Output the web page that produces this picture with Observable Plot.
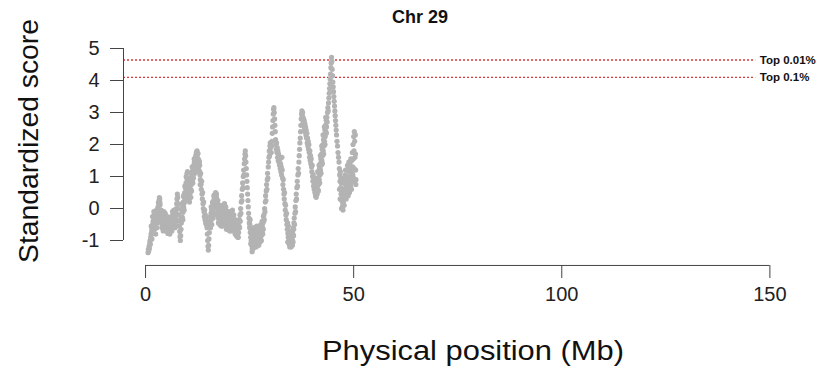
<!DOCTYPE html>
<html><head><meta charset="utf-8">
<script src="https://cdn.jsdelivr.net/npm/d3@7"></script>
<script src="https://cdn.jsdelivr.net/npm/@observablehq/plot@0.6"></script>
<style>body{margin:0;background:#fff;} svg{display:block}</style>
</head><body><div id="chart"></div>
<script>
const title = "Chr 29";
const xLabel = "Physical position (Mb)";
const yLabel = "Standardized score";
const xTicks = [0, 50, 100, 150];
const yTicks = [-1, 0, 1, 2, 3, 4, 5];
const thresholdNames = ["Top 0.01%", "Top 0.1%"];
const thresholdValues = [4.64, 4.10];
// windows: [position (Mb), standardized score]
const windows = [
[0.60,-1.38],[0.68,-1.28],[0.76,-1.33],[0.84,-1.18],[0.92,-1.25],[1.00,-1.08],[1.08,-1.00],[1.16,-1.12],[1.24,-0.90],[1.32,-0.80],[1.40,-0.95],[1.48,-0.70],[1.56,-0.62],[1.64,-0.78],[1.72,-0.50],[1.80,-0.40],[1.88,-0.58],
[1.96,-0.30],[2.04,-0.45],[2.12,-0.22],[2.20,-0.65],[2.28,-0.38],[2.36,-0.55],[2.44,-0.80],[2.52,-0.42],[2.60,-0.28],[2.68,-0.60],[2.76,-0.18],[2.84,-0.05],[2.92,-0.35],[3.00,0.05],[3.08,0.18],[3.16,-0.10],[3.24,0.25],[3.32,0.34],[3.40,0.30],[3.48,0.12],[3.56,-0.05],[3.64,-0.20],
[3.72,-0.35],[3.80,-0.15],[3.88,-0.48],[3.96,-0.28],[4.04,-0.60],[4.12,-0.40],[4.20,-0.20],[4.28,-0.52],[4.36,-0.35],[4.44,-0.65],[4.52,-0.45],[4.60,-0.25],[4.68,-0.55],[4.76,-0.38],[4.84,-0.68],[4.92,-0.50],[5.00,-0.30],[5.08,-0.58],[5.16,-0.42],[5.24,-0.72],[5.32,-0.55],[5.40,-0.35],[5.48,-0.62],[5.56,-0.48],[5.64,-0.75],[5.72,-0.58],[5.80,-0.40],[5.88,-0.66],[5.96,-0.50],[6.04,-0.30],[6.12,-0.55],[6.20,-0.40],[6.28,-0.62],[6.36,-0.45],[6.44,-0.25],[6.52,-0.50],[6.60,-0.32],[6.68,-0.15],[6.76,-0.42],[6.84,-0.28],[6.92,-0.55],[7.00,-0.38],[7.08,-0.20],[7.16,-0.48],[7.24,-0.30],[7.32,-0.12],
[7.40,0.00],[7.48,0.15],[7.56,0.30],[7.64,0.45],[7.72,0.35],[7.80,0.15],[7.88,0.00],[7.96,-0.20],[8.04,-0.38],[8.12,-0.55],[8.20,-0.72],[8.28,-0.88],[8.36,-1.00],[8.44,-0.85],[8.52,-0.65],[8.60,-0.45],
[8.68,-0.30],[8.76,-0.10],[8.84,-0.28],[8.92,0.05],[9.00,-0.12],[9.08,0.20],[9.16,0.05],[9.24,0.35],[9.32,0.18],[9.40,0.50],[9.48,0.32],[9.56,0.65],[9.64,0.45],[9.72,0.80],[9.80,0.62],[9.88,0.95],[9.96,1.10],[10.04,0.85],[10.12,0.70],[10.20,0.55],[10.28,0.38],[10.36,0.52],[10.44,0.30],[10.52,0.45],[10.60,0.65],[10.68,0.48],[10.76,0.78],[10.84,0.60],[10.92,0.90],[11.00,0.75],[11.08,1.05],[11.16,0.88],[11.24,1.15],[11.32,1.00],[11.40,1.25],[11.48,1.10],[11.56,1.35],[11.64,1.20],
[11.72,1.45],[11.80,1.30],[11.88,1.55],[11.96,1.40],[12.04,1.65],[12.12,1.50],[12.20,1.75],[12.28,1.60],[12.36,1.80],[12.44,1.68],[12.52,1.55],[12.60,1.72],[12.68,1.42],[12.76,1.30],[12.84,1.50],[12.92,1.18],[13.00,1.35],[13.08,1.05],
[13.16,0.90],[13.24,1.10],[13.32,0.75],[13.40,0.60],[13.48,0.85],[13.56,0.45],[13.64,0.30],[13.72,0.50],[13.80,0.15],[13.88,0.00],[13.96,0.20],[14.04,-0.10],[14.12,-0.25],[14.20,-0.05],[14.28,-0.35],[14.36,-0.20],[14.44,-0.45],[14.52,-0.30],[14.60,-0.50],[14.68,-0.38],[14.76,-0.60],[14.84,-0.80],[14.92,-1.00],[15.00,-1.18],[15.08,-1.30],[15.16,-1.15],[15.24,-0.95],[15.32,-0.75],[15.40,-0.55],[15.48,-0.40],
[15.56,-0.25],[15.64,-0.45],[15.72,-0.15],[15.80,-0.35],[15.88,-0.05],[15.96,-0.28],[16.04,0.05],[16.12,-0.18],[16.20,0.15],[16.28,-0.10],[16.36,0.25],[16.44,0.05],[16.52,0.35],[16.60,0.20],[16.68,0.45],[16.76,0.30],[16.84,0.50],[16.92,0.38],[17.00,0.15],[17.08,0.32],[17.16,0.00],[17.24,0.20],[17.32,-0.15],[17.40,0.05],[17.48,-0.30],[17.56,-0.10],[17.64,-0.40],[17.72,-0.20],[17.80,-0.05],[17.88,-0.30],[17.96,0.10],[18.04,-0.15],[18.12,-0.38],[18.20,-0.20],[18.28,-0.45],[18.36,-0.25],[18.44,-0.10],[18.52,-0.35],[18.60,-0.15],[18.68,0.05],
[18.76,-0.20],[18.84,0.10],[18.92,-0.05],[19.00,-0.30],[19.08,0.00],[19.16,-0.25],[19.24,-0.45],[19.32,-0.15],[19.40,-0.35],[19.48,-0.55],[19.56,-0.28],[19.64,-0.48],[19.72,-0.62],[19.80,-0.40],[19.88,-0.20],[19.96,-0.50],[20.04,-0.30],[20.12,-0.58],[20.20,-0.70],[20.28,-0.45],[20.36,-0.60],[20.44,-0.35],[20.52,-0.55],[20.60,-0.20],[20.68,-0.42],[20.76,-0.10],[20.84,-0.30],[20.92,-0.50],[21.00,-0.25],[21.08,-0.40],[21.16,-0.60],[21.24,-0.45],[21.32,-0.70],[21.40,-0.55],[21.48,-0.35],[21.56,-0.62],[21.64,-0.80],[21.72,-0.58],[21.80,-0.40],[21.88,-0.65],[21.96,-0.85],[22.04,-0.70],[22.12,-0.50],[22.20,-0.72],[22.28,-0.90],
[22.36,-0.75],[22.44,-0.55],[22.52,-0.35],[22.60,-0.60],[22.68,-0.20],[22.76,-0.40],[22.84,0.00],[22.92,-0.15],[23.00,0.20],
[23.08,0.40],[23.16,0.25],[23.24,0.60],[23.32,0.80],[23.40,0.65],[23.48,1.00],[23.56,1.20],[23.64,1.05],[23.72,1.40],[23.80,1.55],[23.88,1.70],[23.96,1.80],[24.04,1.65],[24.12,1.45],[24.20,1.25],[24.28,1.05],[24.36,0.85],[24.44,0.65],[24.52,0.45],[24.60,0.25],[24.68,0.05],[24.76,-0.15],[24.84,-0.30],
[24.92,-0.45],[25.00,-0.60],[25.08,-0.50],[25.16,-0.75],[25.24,-0.90],[25.32,-0.70],[25.40,-1.00],[25.48,-1.15],[25.56,-0.95],[25.64,-1.25],[25.72,-1.05],[25.80,-0.85],[25.88,-1.10],[25.96,-0.95],[26.04,-0.80],[26.12,-1.00],[26.20,-0.88],[26.28,-0.70],[26.36,-0.92],[26.44,-1.05],[26.52,-0.85],[26.60,-0.95],[26.68,-0.75],[26.76,-1.00],[26.84,-0.88],[26.92,-1.10],[27.00,-0.90],[27.08,-0.78],[27.16,-0.95],[27.24,-0.82],[27.32,-1.00],[27.40,-0.85],[27.48,-0.70],[27.56,-0.92],[27.64,-0.80],[27.72,-0.62],[27.80,-0.85],[27.88,-0.70],[27.96,-0.55],[28.04,-0.75],[28.12,-0.60],[28.20,-0.45],[28.28,-0.65],[28.36,-0.40],
[28.44,-0.20],[28.52,-0.35],[28.60,0.00],[28.68,-0.10],[28.76,0.20],[28.84,0.40],[28.92,0.25],[29.00,0.55],[29.08,0.75],[29.16,0.60],[29.24,0.90],[29.32,1.10],[29.40,0.95],[29.48,1.30],[29.56,1.45],[29.64,1.60],[29.72,1.80],[29.80,1.65],[29.88,1.95],[29.96,2.05],
[30.04,1.90],[30.12,2.00],[30.20,1.75],[30.28,1.95],[30.36,2.10],[30.44,2.35],[30.52,2.55],[30.60,2.75],[30.68,2.95],[30.76,3.10],[30.84,3.15],[30.92,3.00],[31.00,2.80],[31.08,2.60],[31.16,2.40],
[31.24,2.15],[31.32,2.00],[31.40,1.85],[31.48,2.05],[31.56,1.75],[31.64,1.90],[31.72,1.60],[31.80,1.80],[31.88,1.50],[31.96,1.70],[32.04,1.45],[32.12,1.60],[32.20,1.35],[32.28,1.55],[32.36,1.25],[32.44,1.40],[32.52,1.15],[32.60,1.30],[32.68,1.05],[32.76,1.60],[32.84,1.20],[32.92,0.95],[33.00,0.75],[33.08,0.90],[33.16,0.60],
[33.24,0.45],[33.32,0.30],[33.40,0.50],[33.48,0.15],[33.56,-0.05],[33.64,0.10],[33.72,-0.20],[33.80,-0.35],[33.88,-0.15],[33.96,-0.50],[34.04,-0.65],[34.12,-0.45],[34.20,-0.78],[34.28,-0.90],[34.36,-0.70],[34.44,-1.00],[34.52,-1.12],[34.60,-0.95],[34.68,-0.80],[34.76,-1.05],[34.84,-1.18],[34.92,-1.00],[35.00,-0.85],[35.08,-1.10],[35.16,-0.95],[35.24,-0.75],[35.32,-1.00],[35.40,-0.80],[35.48,-0.60],[35.56,-0.85],[35.64,-0.45],
[35.72,-0.30],[35.80,-0.50],[35.88,-0.15],[35.96,0.05],[36.04,-0.10],[36.12,0.25],[36.20,0.45],[36.28,0.30],[36.36,0.65],[36.44,0.85],[36.52,0.70],[36.60,1.05],[36.68,1.25],[36.76,1.10],[36.84,1.45],[36.92,1.65],[37.00,1.85],[37.08,2.05],[37.16,2.20],
[37.24,2.40],[37.32,2.60],[37.40,2.80],[37.48,2.95],[37.56,3.05],[37.64,2.90],[37.72,3.00],[37.80,2.85],[37.88,2.70],[37.96,2.80],[38.04,2.60],[38.12,2.75],[38.20,2.50],[38.28,2.65],
[38.36,2.40],[38.44,2.55],[38.52,2.30],[38.60,2.45],[38.68,2.20],[38.76,2.35],[38.84,2.05],[38.92,2.20],[39.00,1.95],[39.08,2.10],[39.16,1.85],[39.24,2.00],[39.32,1.75],[39.40,1.60],[39.48,1.80],[39.56,1.50],[39.64,1.65],[39.72,1.40],[39.80,1.55],
[39.88,1.30],[39.96,1.15],[40.04,1.35],[40.12,1.00],[40.20,0.85],[40.28,1.05],[40.36,0.70],[40.44,0.90],[40.52,0.60],[40.60,0.75],[40.68,0.50],[40.76,0.65],[40.84,0.40],[40.92,0.55],[41.00,0.35],[41.08,0.50],
[41.16,0.65],[41.24,0.45],[41.32,0.80],[41.40,0.60],[41.48,0.95],[41.56,0.75],[41.64,1.10],[41.72,0.90],[41.80,1.25],[41.88,1.05],[41.96,1.40],[42.04,1.20],[42.12,1.55],[42.20,1.35],[42.28,1.70],[42.36,1.50],[42.44,1.85],[42.52,1.65],[42.60,2.00],[42.68,1.80],[42.76,2.15],[42.84,1.95],[42.92,2.30],[43.00,2.10],[43.08,2.45],[43.16,2.25],[43.24,2.60],[43.32,2.40],[43.40,2.75],[43.48,2.55],
[43.56,2.85],[43.64,2.70],[43.72,3.00],[43.80,3.15],[43.88,3.05],[43.96,3.30],[44.04,3.45],[44.12,3.60],[44.20,3.75],[44.28,3.90],[44.36,4.05],[44.44,4.20],[44.52,4.40],[44.60,4.55],[44.68,4.72],[44.76,4.60],
[44.84,4.35],[44.92,4.15],[45.00,3.95],[45.08,3.80],[45.16,3.65],[45.24,3.50],[45.32,3.35],[45.40,3.20],[45.48,3.05],[45.56,2.90],[45.64,2.75],[45.72,2.60],[45.80,2.45],[45.88,2.30],
[46.00,2.10],[46.12,1.95],[46.24,1.75],[46.36,1.60],[46.48,1.45],
[46.56,1.25],[46.64,1.05],[46.72,0.85],[46.80,1.15],[46.88,0.65],[46.96,0.45],[47.04,0.80],[47.12,0.25],[47.20,0.55],[47.28,0.05],[47.36,0.35],[47.44,-0.05],[47.52,0.20],[47.60,0.60],[47.68,0.40],[47.76,0.85],[47.84,0.55],[47.92,1.05],[48.00,0.75],[48.08,0.40],[48.16,0.90],[48.24,0.60],[48.32,1.20],[48.40,0.80],[48.48,0.50],[48.56,1.00],[48.64,0.70],[48.72,1.30],[48.80,0.95],[48.88,0.60],[48.96,1.15],[49.04,0.85],[49.12,1.40],[49.20,1.00],[49.28,0.70],[49.36,1.20],
[49.44,0.90],[49.52,1.50],[49.60,1.10],[49.68,1.75],[49.76,1.30],[49.84,2.00],[49.92,1.55],[50.00,2.25],[50.08,1.80],[50.16,2.40],[50.24,2.10],[50.32,1.60],[50.40,2.30],[50.48,1.20],[50.56,0.90]
];
// further windows in the dense stretches: [position (Mb), standardized score]
const windowsDense = [
[1.36,-0.55],[1.52,-0.95],[1.68,-0.25],[1.84,-0.75],[2.00,-0.10],[2.16,-0.55],[2.32,-0.15],[2.48,-0.60],[2.64,-0.05],[2.80,-0.45],[2.96,0.00],[3.12,-0.25],[3.28,0.10],[3.44,0.20],[3.60,-0.40],
[3.76,-0.05],[3.92,-0.60],[4.08,-0.15],[4.24,-0.70],[4.40,-0.10],[4.56,-0.62],[4.72,-0.15],[4.88,-0.30],[5.04,-0.70],[5.20,-0.25],[5.36,-0.78],[5.52,-0.30],[5.68,-0.45],[5.84,-0.80],[6.00,-0.55],[6.16,-0.25],[6.32,-0.70],[6.48,-0.10],[6.64,-0.55],[6.80,-0.05],[6.96,-0.20],[7.12,-0.60],[7.28,-0.45],
[8.80,0.15],[8.96,-0.35],[9.12,0.40],[9.28,-0.05],[9.44,0.70],[9.60,0.25],[9.76,1.00],[9.92,0.70],[10.08,1.15],[10.24,0.80],[10.40,0.60],[10.56,0.20],[10.72,0.95],[10.88,0.35],[11.04,0.55],[11.20,1.30],[11.36,0.80],[11.52,0.95],[11.68,1.55],[11.84,1.10],[12.00,1.25],[12.16,1.35],[12.32,1.45],[12.48,1.30],[12.64,1.55],[12.80,1.15],[12.96,1.45],[13.12,0.75],
[15.60,-0.60],[15.76,0.05],[15.92,-0.50],[16.08,0.20],[16.24,-0.30],[16.40,0.40],[16.56,0.05],[16.72,0.15],[16.88,0.10],[17.04,0.45],[17.20,-0.20],[17.36,0.25],[17.52,-0.45],[17.68,0.00],[17.84,-0.50],[18.00,0.05],[18.16,-0.55],[18.32,0.00],[18.48,-0.55],[18.64,-0.35],[18.80,-0.45],[18.96,0.15],[19.12,-0.45],[19.28,0.05],[19.44,-0.65],[19.60,-0.10],[19.76,-0.25],[19.92,-0.65],[20.08,-0.10],[20.24,-0.40],[20.40,-0.15],[20.56,-0.70],[20.72,-0.60],[20.88,-0.05],[21.04,-0.55],[21.20,-0.20],[21.36,-0.40],[21.52,-0.80],[21.68,-0.45],[21.84,-0.85],[22.00,-0.50],[22.16,-0.90],[22.32,-0.55],
[25.12,-0.35],[25.28,-1.10],[25.44,-0.70],[25.60,-1.35],[25.76,-0.75],[25.92,-1.25],[26.08,-0.60],[26.24,-1.15],[26.40,-0.65],[26.56,-1.20],[26.72,-0.55],[26.88,-1.15],[27.04,-0.65],[27.20,-1.15],[27.36,-0.65],[27.52,-1.05],[27.68,-0.50],[27.84,-1.00],[28.00,-0.40],[28.16,-0.80],[28.32,-0.25],
[34.16,-1.05],[34.32,-0.55],[34.48,-0.80],[34.64,-1.20],[34.80,-0.85],[34.96,-1.20],[35.12,-0.70],[35.28,-1.15],[35.44,-1.05],[35.60,-0.65],
[41.20,0.95],[41.36,1.15],[41.52,0.55],[41.68,1.35],[41.84,0.80],[42.00,1.65],[42.16,1.10],[42.32,1.95],[42.48,1.40],[42.64,2.30],[42.80,1.70],[42.96,2.55],[43.12,2.00],[43.28,2.85],[43.44,2.35],
[46.60,0.60],[46.76,0.30],[46.92,0.95],[47.08,0.00],[47.24,0.90],[47.40,0.15],[47.56,0.95],[47.72,0.10],[47.88,0.30],[48.04,1.20],[48.20,0.30],[48.36,0.45],[48.52,1.35],[48.68,0.40],[48.84,1.45],[49.00,0.50],[49.16,0.75],[49.32,1.55],[49.48,0.60],[49.64,0.85],[49.80,1.05],[49.96,0.95],[50.12,1.25],[50.28,0.85],[50.44,1.70],[50.52,0.75]
];

const thresholds = thresholdNames.map((name, i) => ({name, value: thresholdValues[i]}));
const points = windows.concat(windowsDense).map(([pos, score]) => ({pos, score}));

const xDomain = [-5.3, 161.2];
const lineEnd = 146.6;
const xAxisBase = -1.78;

const plot = Plot.plot({
  width: 830, height: 366,
  marginLeft: 123, marginRight: 14, marginTop: 48, marginBottom: 101,
  style: {fontFamily: "'Liberation Sans', Arial, sans-serif", background: "#fff", color: "#222"},
  x: {domain: xDomain},
  y: {domain: [-1, 5], range: [240, 48]},
  marks: [
    Plot.ruleY(thresholds, {y: "value", x1: xDomain[0], x2: lineEnd, stroke: "#d43a3a", strokeWidth: 1.3, strokeDasharray: "2,2"}),
    Plot.dot(points, {x: "pos", y: "score", r: 2.6, fill: "#b3b3b3"}),
    Plot.text(thresholds, {x: lineEnd, y: "value", text: "name", textAnchor: "start", dx: 4, fontWeight: "bold", fontSize: 11.5, fill: "#111"}),
    Plot.ruleX([xDomain[0]], {y1: yTicks[0], y2: yTicks[yTicks.length - 1], stroke: "#444"}),
    Plot.ruleY([xAxisBase], {x1: xTicks[0], x2: xTicks[xTicks.length - 1], stroke: "#444"}),
    Plot.axisY({anchor: "left", ticks: yTicks, tickFormat: d => String(d), tickSize: 13, tickPadding: 11, fontSize: 20, label: null, stroke: "#444"}),
    Plot.axisX({anchor: "bottom", ticks: xTicks, tickFormat: d => String(d), tickSize: 13, tickPadding: 8, fontSize: 20, label: null, stroke: "#444"}),
    Plot.text([yLabel], {frameAnchor: "left", rotate: -90, textAnchor: "middle", lineAnchor: "middle", dx: -94, dy: -16, fontSize: 27, fill: "#111"}),
    Plot.text([xLabel], {frameAnchor: "bottom", lineAnchor: "middle", dy: 86, dx: 3, fontSize: 27, fill: "#111"}),
    Plot.text([title], {frameAnchor: "top", lineAnchor: "middle", dx: -50, dy: -31, fontWeight: "bold", fontSize: 18, fill: "#111"})
  ]
});
// the axis titles of the reference are drawn slightly wider than the font
d3.select(plot).selectAll("text").each(function () {
  const t = this.textContent;
  if (t === xLabel) d3.select(this).attr("textLength", 302).attr("lengthAdjust", "spacingAndGlyphs");
  if (t === yLabel) d3.select(this).attr("textLength", 244).attr("lengthAdjust", "spacingAndGlyphs");
});
document.getElementById("chart").appendChild(plot);
</script>
</body></html>
